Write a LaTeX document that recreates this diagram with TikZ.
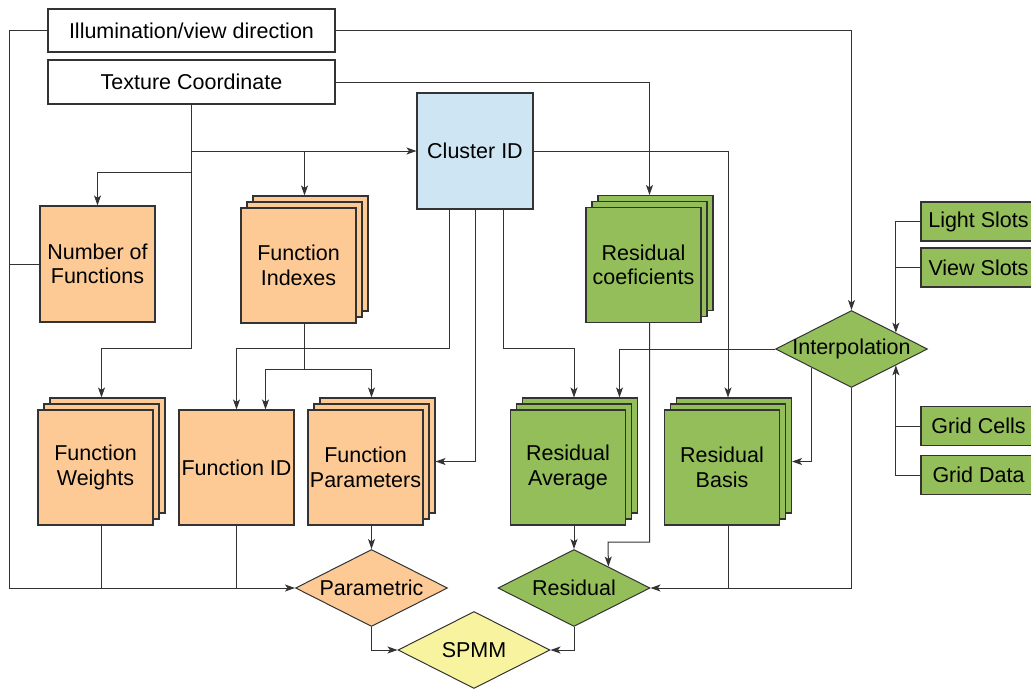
\documentclass[tikz,border=0pt]{standalone}
\usepackage{fontspec}
\setmainfont{Liberation Sans}
\usetikzlibrary{shapes.geometric,shadows,arrows.meta,calc}
\definecolor{peach}{RGB}{253,202,150}
\definecolor{leaf}{RGB}{147,190,89}
\definecolor{sky}{RGB}{206,229,243}
\definecolor{lemon}{RGB}{248,243,158}
\begin{document}
\begin{tikzpicture}[x=1pt,y=-1pt,
  font=\fontsize{21.5}{24.5}\selectfont,
  box/.style={draw=black!80, line width=1.1pt, align=center, inner sep=0pt},
  stack/.style={box, double copy shadow={shadow xshift=6pt, shadow yshift=6pt}},
  dec/.style={diamond, aspect=2, draw=black!80, line width=1pt, inner sep=0pt, minimum width=152pt, minimum height=77pt},
  slot/.style={box, fill=leaf, minimum width=115pt, minimum height=39pt},
  line/.style={draw=black!80, line width=1pt},
  arr/.style={line, -{Stealth[length=10pt,width=7pt,inset=2.5pt]}}]
\useasboundingbox (0,0) rectangle (1031,689);

\node[box, minimum width=287pt, minimum height=43pt] (illum) at (191.5,30.5) {Illumination/view direction};
\node[box, minimum width=287pt, minimum height=44pt] (texc) at (191.5,82) {Texture Coordinate};
\node[box, fill=sky, minimum size=116pt] (clus) at (475,151) {Cluster ID};

\node[box, fill=peach, minimum width=115pt, minimum height=116pt] (nfun) at (97.5,264) {Number of\\Functions};
\node[stack, fill=peach, minimum size=115pt] (fi) at (298.5,265.5) {Function\\Indexes};
\node[stack, fill=leaf, minimum size=115pt] (rc) at (643.5,265) {Residual\\coeficients};

\node[stack, fill=peach, minimum size=115pt] (fw) at (95.5,467.5) {Function\\Weights};
\node[box, fill=peach, minimum size=115pt] (fid) at (236.5,467.5) {Function ID};
\node[stack, fill=peach, minimum size=115pt] (fp) at (365.5,467.5) {Function\\Parameters};
\node[stack, fill=leaf, minimum size=115pt] (ra) at (568,467.5) {Residual\\Average};
\node[stack, fill=leaf, minimum size=115pt] (rb) at (722,467.5) {Residual\\Basis};

\node[dec, fill=leaf] (ip) at (851.5,349) {\makebox[0pt]{Interpolation}};
\node[dec, fill=peach] (par) at (371.5,588) {\makebox[0pt]{Parametric}};
\node[dec, fill=leaf] (res) at (574,588) {\makebox[0pt]{Residual}};
\node[dec, fill=lemon] (spmm) at (474,650) {\makebox[0pt]{SPMM}};

\node[slot] (ls) at (978.5,221.5) {Light Slots};
\node[slot] (vs) at (978.5,267.5) {View Slots};
\node[slot] (gc) at (978.5,426) {Grid Cells};
\node[slot] (gd) at (978.5,475) {Grid Data};

\coordinate (lft) at (9,588);
\coordinate (fisplit) at ([xshift=6pt]fi.south |- 0,369);
\coordinate (ipup) at ($(ip.north)!0.58!(ip.east)$);
\coordinate (ipdn) at ($(ip.south)!0.58!(ip.east)$);

\draw[arr] (illum.west) -| (lft) -- (par.west);
\draw[line] (nfun.west) -- (nfun.west -| lft);
\draw[arr] (illum.east) -| (ip.north);
\draw[arr] (texc.east) -| ([xshift=6pt,yshift=12pt]rc.north);

\draw[arr] (texc.south) -- (texc.south |- 0,348) -| ([xshift=6pt,yshift=12pt]fw.north);
\draw[arr] (texc.south |- clus.west) -- (clus.west);
\draw[arr] (texc.south |- 0,172) -| (nfun.north);
\draw[arr] ([xshift=6pt]fi.north |- clus.west) -- ([xshift=6pt,yshift=12pt]fi.north);

\draw[line] ([xshift=6pt]fi.south) -- (fisplit);
\draw[arr] (fisplit) -| ([xshift=29pt]fid.north);
\draw[arr] (fisplit) -| ([xshift=6pt,yshift=12pt]fp.north);

\draw[arr] ([xshift=-26pt]clus.south) -- ++(0,139) -| (fid.north);
\draw[arr] (clus.south) |- ([xshift=12pt,yshift=6pt]fp.east);
\draw[arr] ([xshift=28pt]clus.south) -- ++(0,139) -| ([xshift=6pt,yshift=12pt]ra.north);
\draw[arr] (clus.east) -| ([xshift=6pt,yshift=12pt]rb.north);

\draw[line] ([xshift=6pt]fw.south) -- ([xshift=6pt]fw.south |- lft);
\draw[line] (fid.south) -- (fid.south |- lft);
\draw[arr] ([xshift=6pt]fp.south) -- (par.north);
\draw[arr] (par.south) |- (spmm.west);
\draw[arr] (res.south) |- (spmm.east);

\draw[arr] ([xshift=6pt]ra.south) -- (res.north);
\draw[arr] ([xshift=6pt]rc.south) |- (608,542) -- ($(res.north)!0.45!(res.east)$);
\draw[arr] (ip.west) -| ([xshift=51.5pt,yshift=12pt]ra.north);
\draw[arr] ($(ip.west)!0.48!(ip.south)$) |- ([xshift=12pt,yshift=6pt]rb.east);
\draw[arr] (ip.south) |- (res.east);
\draw[line] ([xshift=6pt]rb.south) -- ([xshift=6pt]rb.south |- res.east);

\draw[arr] (ls.west) -| (ipup);
\draw[line] (vs.west) -- (vs.west -| ipup);
\draw[arr] (gd.west) -| (ipdn);
\draw[line] (gc.west) -- (gc.west -| ipdn);
\end{tikzpicture}
\end{document}
